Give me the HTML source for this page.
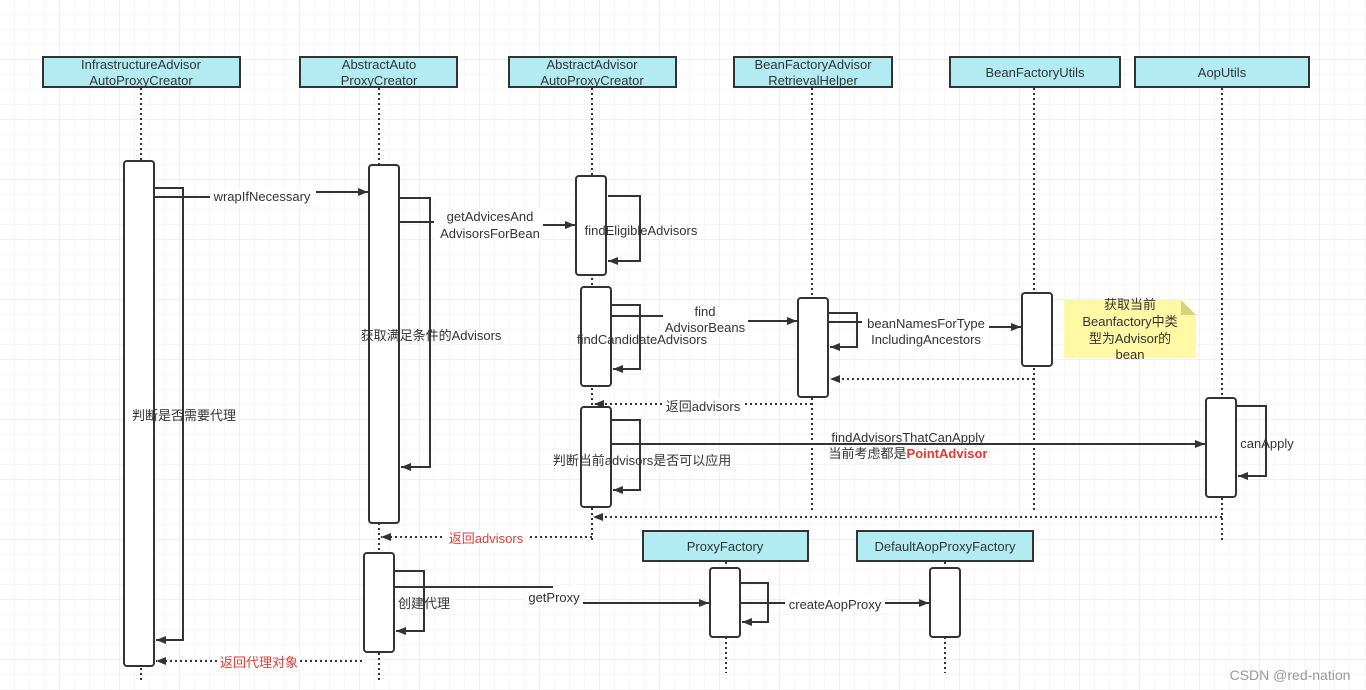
<!DOCTYPE html>
<html><head><meta charset="utf-8"><style>
html,body{margin:0;padding:0;background:#fff;}
svg{display:block;}
text{font-family:"Liberation Sans","Noto Sans CJK SC",sans-serif;font-size:13px;fill:#333;}
</style></head><body>
<svg width="1366" height="690" viewBox="0 0 1366 690" xmlns="http://www.w3.org/2000/svg">
<defs>
<pattern id="g" width="15" height="15" patternUnits="userSpaceOnUse"><path d="M15 0V15H0" fill="none" stroke="#efefef" stroke-width="1"/></pattern>
<pattern id="G" width="60" height="60" patternUnits="userSpaceOnUse"><rect width="60" height="60" fill="url(#g)"/><path d="M60 0V60H0" fill="none" stroke="#e2e2e2" stroke-width="1"/></pattern>
<marker id="a" markerWidth="10" markerHeight="8" refX="10" refY="4" orient="auto" markerUnits="userSpaceOnUse"><path d="M0,0L10,4L0,8z" fill="#333"/></marker>
</defs>
<rect width="1366" height="690" fill="url(#G)"/>

<!-- lifelines -->
<g stroke="#333" stroke-width="2" stroke-dasharray="2,3" fill="none">
<line x1="141" y1="88" x2="141" y2="680"/>
<line x1="379" y1="88" x2="379" y2="680"/>
<line x1="592" y1="88" x2="592" y2="543"/>
<line x1="812" y1="88" x2="812" y2="512"/>
<line x1="1034" y1="88" x2="1034" y2="512"/>
<line x1="1222" y1="88" x2="1222" y2="543"/>
<line x1="726" y1="562" x2="726" y2="673"/>
<line x1="945" y1="562" x2="945" y2="673"/>
</g>

<!-- headers -->
<g stroke="#333" stroke-width="2" fill="#b2ebf2">
<rect x="43" y="57" width="197" height="30"/>
<rect x="300" y="57" width="157" height="30"/>
<rect x="509" y="57" width="167" height="30"/>
<rect x="734" y="57" width="158" height="30"/>
<rect x="950" y="57" width="170" height="30"/>
<rect x="1135" y="57" width="174" height="30"/>
<rect x="643" y="531" width="165" height="30"/>
<rect x="857" y="531" width="176" height="30"/>
</g>
<g text-anchor="middle">
<text x="141" y="69">InfrastructureAdvisor</text><text x="141" y="85">AutoProxyCreator</text>
<text x="379" y="69">AbstractAuto</text><text x="379" y="85">ProxyCreator</text>
<text x="592" y="69">AbstractAdvisor</text><text x="592" y="85">AutoProxyCreator</text>
<text x="813" y="69">BeanFactoryAdvisor</text><text x="813" y="85">RetrievalHelper</text>
<text x="1035" y="77">BeanFactoryUtils</text>
<text x="1222" y="77">AopUtils</text>
<text x="725" y="551">ProxyFactory</text>
<text x="945" y="551">DefaultAopProxyFactory</text>
</g>

<!-- activations -->
<g stroke="#333" stroke-width="2" fill="#fff">
<rect x="124" y="161" width="30" height="505" rx="3"/>
<rect x="369" y="165" width="30" height="358" rx="3"/>
<rect x="576" y="176" width="30" height="99" rx="3"/>
<rect x="581" y="287" width="30" height="99" rx="3"/>
<rect x="581" y="407" width="30" height="100" rx="3"/>
<rect x="798" y="298" width="30" height="99" rx="3"/>
<rect x="1022" y="293" width="30" height="73" rx="3"/>
<rect x="1206" y="398" width="30" height="99" rx="3"/>
<rect x="364" y="553" width="30" height="99" rx="3"/>
<rect x="710" y="568" width="30" height="69" rx="3"/>
<rect x="930" y="568" width="30" height="69" rx="3"/>
</g>

<!-- solid connectors -->
<g stroke="#333" stroke-width="2" fill="none">
<polyline points="154,188 183,188 183,640 156,640" marker-end="url(#a)"/>
<line x1="154" y1="197" x2="210" y2="197"/>
<line x1="316" y1="192" x2="368" y2="192" marker-end="url(#a)"/>
<polyline points="399,198 430,198 430,467 401,467" marker-end="url(#a)"/>
<line x1="399" y1="222" x2="434" y2="222"/>
<line x1="543" y1="225" x2="575" y2="225" marker-end="url(#a)"/>
<polyline points="608,196 640,196 640,261 608,261" marker-end="url(#a)"/>
<polyline points="611,305 640,305 640,369 613,369" marker-end="url(#a)"/>
<line x1="611" y1="316" x2="663" y2="316"/>
<line x1="748" y1="321" x2="797" y2="321" marker-end="url(#a)"/>
<polyline points="828,313 857,313 857,347 830,347" marker-end="url(#a)"/>
<line x1="828" y1="322" x2="862" y2="322"/>
<line x1="989" y1="327" x2="1021" y2="327" marker-end="url(#a)"/>
<polyline points="611,420 640,420 640,490 613,490" marker-end="url(#a)"/>
<line x1="611" y1="444" x2="1205" y2="444" marker-end="url(#a)"/>
<polyline points="1236,406 1266,406 1266,476 1238,476" marker-end="url(#a)"/>
<polyline points="394,571 424,571 424,631 396,631" marker-end="url(#a)"/>
<line x1="394" y1="587" x2="553" y2="587"/>
<line x1="583" y1="603" x2="709" y2="603" marker-end="url(#a)"/>
<polyline points="740,583 768,583 768,622 742,622" marker-end="url(#a)"/>
<line x1="740" y1="603" x2="785" y2="603"/>
<line x1="885" y1="603" x2="929" y2="603" marker-end="url(#a)"/>
</g>

<!-- dotted returns -->
<g stroke="#333" stroke-width="2" stroke-dasharray="2,3" fill="none">
<line x1="1034" y1="379" x2="830" y2="379" marker-end="url(#a)"/>
<line x1="812" y1="404" x2="594" y2="404" marker-end="url(#a)"/>
<line x1="1222" y1="517" x2="593" y2="517" marker-end="url(#a)"/>
<line x1="592" y1="537" x2="381" y2="537" marker-end="url(#a)"/>
<line x1="362" y1="661" x2="156" y2="661" marker-end="url(#a)"/>
</g>

<!-- note -->
<path d="M1064,300 H1181 L1196,315 V358 H1064 Z" fill="#fff9a6"/>
<path d="M1181,300 V315 H1196 Z" fill="#d8d27a"/>
<g text-anchor="middle">
<text x="1130" y="309">获取当前</text>
<text x="1130" y="326">Beanfactory中类</text>
<text x="1130" y="343">型为Advisor的</text>
<text x="1130" y="359">bean</text>
</g>

<!-- labels with white bg -->
<g fill="#fff">
<rect x="210" y="189" width="105" height="16"/>
<rect x="434" y="209" width="109" height="32"/>
<rect x="663" y="303" width="85" height="32"/>
<rect x="862" y="314" width="127" height="32"/>
<rect x="662" y="398" width="82" height="16"/>
<rect x="444" y="530" width="84" height="16"/>
<rect x="525" y="589" width="58" height="16"/>
<rect x="785" y="596" width="100" height="16"/>
<rect x="218" y="654" width="82" height="16"/>
</g>
<g text-anchor="middle">
<text x="262" y="201">wrapIfNecessary</text>
<text x="490" y="221">getAdvicesAnd</text><text x="490" y="238">AdvisorsForBean</text>
<text x="641" y="235">findEligibleAdvisors</text>
<text x="705" y="316">find</text><text x="705" y="332">AdvisorBeans</text>
<text x="642" y="344">findCandidateAdvisors</text>
<text x="926" y="328">beanNamesForType</text><text x="926" y="344">IncludingAncestors</text>
<text x="431" y="340">获取满足条件的Advisors</text>
<text x="184" y="420">判断是否需要代理</text>
<text x="703" y="411">返回advisors</text>
<text x="908" y="442">findAdvisorsThatCanApply</text>
<text x="908" y="458">当前考虑都是<tspan fill="#e53935" font-weight="bold">PointAdvisor</tspan></text>
<text x="642" y="465">判断当前advisors是否可以应用</text>
<text x="1267" y="448">canApply</text>
<text x="486" y="543" style="fill:#e53935">返回advisors</text>
<text x="554" y="602">getProxy</text>
<text x="424" y="608">创建代理</text>
<text x="835" y="609">createAopProxy</text>
<text x="259" y="667" style="fill:#e53935">返回代理对象</text>
<text x="1290" y="680" style="fill:#999;font-size:14px">CSDN @red-nation</text>
</g>
</svg>
</body></html>
